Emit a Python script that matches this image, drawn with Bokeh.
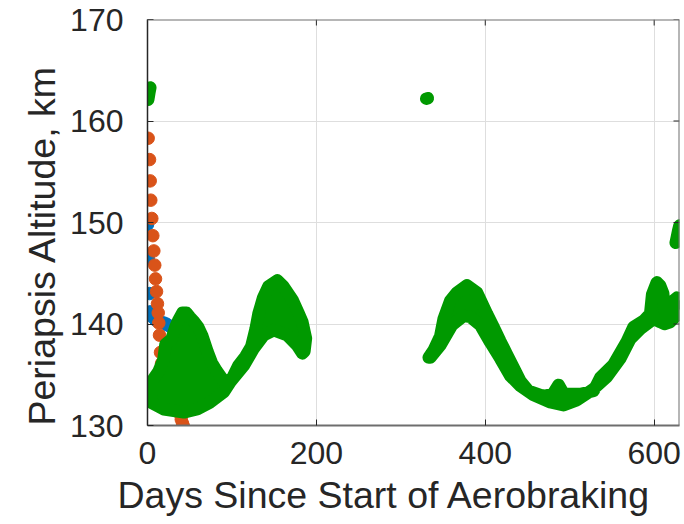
from bokeh.plotting import figure
from bokeh.models import Range1d, FixedTicker, Span, Title
from bokeh.embed import file_html
from bokeh.resources import INLINE

# ---- data ----
blue_day = [0.0, 0.8, 2.4, 3.6, 6.0, 9.5, 12.0, 14.0, 16.5, 19.3, 22.0, 24.0, 27.2, 30.0, 32.0, 36.0, 40.0, 42.5]
blue_alt = [149.8, 146.5, 143.0, 141.2, 140.7, 140.4, 140.3, 140.2, 140.15, 140.1, 140.0, 139.9, 139.75, 139.6, 139.4, 139.0, 138.5, 137.6]

orange_day = [0.8, 2.4, 3.2, 3.9, 5.1, 6.3, 7.5, 8.6, 9.5, 10.7, 11.8, 12.7, 13.4,
              14.2, 15.4, 16.6, 19.0, 22.0, 25.5, 29.0, 32.5, 35.5, 38.0, 40.0, 41.5, 42.6]
orange_alt = [158.3, 156.2, 154.1, 152.2, 150.4, 148.7, 147.2, 145.8, 144.45, 143.2, 142.0, 141.1, 140.1,
              138.9, 137.2, 136.1, 135.2, 134.4, 133.6, 132.9, 132.3, 131.8, 131.2, 130.6, 130.2, 129.9]

# green: early-phase envelope (days 0-190)
green_a_day = [3.6, 4.7, 7.1, 13.0, 18.9, 21.3, 28.4, 33.1, 36.7, 41.4, 46.2, 50.0, 54.4, 60.0, 65.0, 71.0, 76.0,
               81.7, 91.0, 100.0, 107.7, 116.0, 123.0, 128.0, 131.4, 137.0, 143.2, 153.8, 161.0, 171.6, 178.7,
               183.4, 187.6, 185.8, 183.4,
               177.2, 165.3, 149.5, 137.6, 125.8, 114.0, 98.2, 90.3, 74.6, 58.8, 43.0, 19.3]
green_a_alt = [132.3, 134.2, 134.6, 135.3, 136.5, 138.0, 138.5, 139.7, 140.4, 141.1, 141.1, 140.7, 140.3, 139.7, 138.8, 137.3, 136.2,
               135.4, 134.3, 134.6, 135.9, 136.8, 137.8, 139.5, 141.0, 142.6, 143.7, 144.3, 143.7, 142.4, 141.1,
               140.2, 138.6, 137.3, 137.1,
               137.9, 138.9, 139.4, 138.9, 137.6, 135.9, 134.3, 133.3, 132.3, 131.6, 131.3, 131.6]

# green: late-phase envelope (days 330-630)
green_b_day = [333.0, 338.8, 346.7, 350.7, 358.6, 366.5, 378.3, 390.2, 394.1, 402.0, 409.8, 417.8, 425.7, 433.5,
               441.4, 451.2, 469.0, 480.0, 486.8, 493.0, 512.4, 528.2, 536.1, 551.8, 567.7, 575.5, 587.3, 595.3,
               597.6, 603.2, 607.0, 610.7, 611.8, 615.4, 619.0, 622.8, 627.2, 630.5,
               630.5, 626.0, 619.0, 612.0, 607.1, 599.2, 583.4, 571.6, 559.8, 544.0, 528.2, 508.5, 492.7, 476.9,
               457.2, 441.4, 429.6, 417.8, 405.9, 394.1, 382.2, 374.3, 360.6, 346.7, 334.9]
green_b_alt = [136.7, 137.4, 138.8, 140.5, 142.3, 143.1, 143.8, 143.1, 142.4, 141.0, 139.7, 138.3, 137.0, 135.7,
               134.4, 133.4, 132.9, 133.1, 134.0, 133.1, 133.1, 133.4, 134.7, 136.0, 138.3, 139.7, 140.3, 141.0,
               142.9, 144.1, 143.8, 143.0, 141.6, 140.4, 141.5, 142.3, 142.6, 142.3,
               141.5, 140.8, 140.2, 140.0, 140.2, 140.5, 139.5, 138.5, 136.6, 134.8, 133.6, 132.5, 132.0, 132.3,
               133.0, 133.9, 134.9, 136.6, 138.2, 139.9, 140.7, 140.8, 139.9, 137.9, 136.7]

green_start_day = [0.8, 1.6, 2.4, 3.3]
green_start_alt = [162.1, 162.5, 162.9, 163.3]
green_mid_day = [330.0, 331.0, 332.0]
green_mid_alt = [162.2, 162.2, 162.25]
green_end_day = [625.5, 627.0, 628.5, 630.0]
green_end_alt = [148.0, 148.6, 149.2, 149.7]

x_ticks = [0, 200, 400, 600]
y_ticks = [130, 140, 150, 160, 170]
x_lim = [0, 630]
y_lim = [130, 170]
x_title = "Days Since Start of Aerobraking"
y_title = "Periapsis Altitude, km"

BLUE = "#0072BD"
ORANGE = "#D95319"
GREEN = "#009900"
TXT = "#262626"
BOX = "#6e6e6e"
MS = 12.5
FONT = "Liberation Sans"

W, H = 684, 524
ML, MR, MT, MB = 147, 5, 19, 99
FW, FH = W - ML - MR, H - MT - MB

p = figure(width=W, height=H, x_range=Range1d(*x_lim), y_range=Range1d(*y_lim),
           output_backend="svg", toolbar_location=None,
           min_border_left=ML, min_border_right=MR, min_border_top=MT, min_border_bottom=MB)
p.outline_line_color = None
p.background_fill_color = "white"
p.border_fill_color = "white"

# grid
p.xgrid.ticker = FixedTicker(ticks=x_ticks)
p.ygrid.ticker = FixedTicker(ticks=y_ticks)
for g in (p.xgrid, p.ygrid):
    g.grid_line_color = "#dedede"
    g.grid_line_width = 1

# data
p.scatter(blue_day, blue_alt, size=MS, color=BLUE)
p.scatter(orange_day, orange_alt, size=MS, color=ORANGE)
p.patch(green_a_day, green_a_alt, fill_color=GREEN, line_color=GREEN, line_width=MS, line_join="round")
p.patch(green_b_day, green_b_alt, fill_color=GREEN, line_color=GREEN, line_width=MS, line_join="round")
p.line(green_start_day, green_start_alt, line_color=GREEN, line_width=MS, line_cap="round")
p.line(green_mid_day, green_mid_alt, line_color=GREEN, line_width=MS, line_cap="round")
p.line(green_end_day, green_end_alt, line_color=GREEN, line_width=MS, line_cap="round")

# box: top and right edges with inward ticks
p.add_layout(Span(location=y_lim[1], dimension="width", line_color=BOX, line_width=2))
p.add_layout(Span(location=x_lim[1], dimension="height", line_color=BOX, line_width=2))
tick_dx = 6.0 * (x_lim[1] - x_lim[0]) / FW
tick_dy = 6.0 * (y_lim[1] - y_lim[0]) / FH
p.segment(x0=x_ticks, y0=[y_lim[1]] * len(x_ticks), x1=x_ticks, y1=[y_lim[1] - tick_dy] * len(x_ticks),
          line_color=TXT, line_width=1)
p.segment(x0=[x_lim[1]] * len(y_ticks), y0=y_ticks, x1=[x_lim[1] - tick_dx] * len(y_ticks), y1=y_ticks,
          line_color=TXT, line_width=1)

# axes
xa = p.xaxis[0]
ya = p.yaxis[0]
xa.ticker = FixedTicker(ticks=x_ticks)
ya.ticker = FixedTicker(ticks=y_ticks)
for ax in (xa, ya):
    ax.major_label_text_font = FONT
    ax.major_label_text_font_size = "32px"
    ax.major_label_text_color = TXT
    ax.major_tick_in = 6
    ax.major_tick_out = 0
    ax.minor_tick_line_color = None
    ax.major_tick_line_color = TXT
xa.axis_line_color = BOX
xa.axis_line_width = 2
ya.axis_line_color = TXT
ya.axis_line_width = 1.5
xa.major_label_standoff = 16
ya.major_label_standoff = 24

# axis titles (as side titles so they can sit off-centre like the reference)
p.add_layout(Title(text=x_title, align="left", offset=-30, standoff=10,
                   text_font=FONT, text_font_size="37.5px", text_font_style="normal",
                   text_color=TXT), "below")
p.add_layout(Title(text=y_title, align="left", offset=0, standoff=9,
                   text_font=FONT, text_font_size="37.5px", text_font_style="normal",
                   text_color=TXT), "left")

open("out.html", "w").write(file_html(p, INLINE))
